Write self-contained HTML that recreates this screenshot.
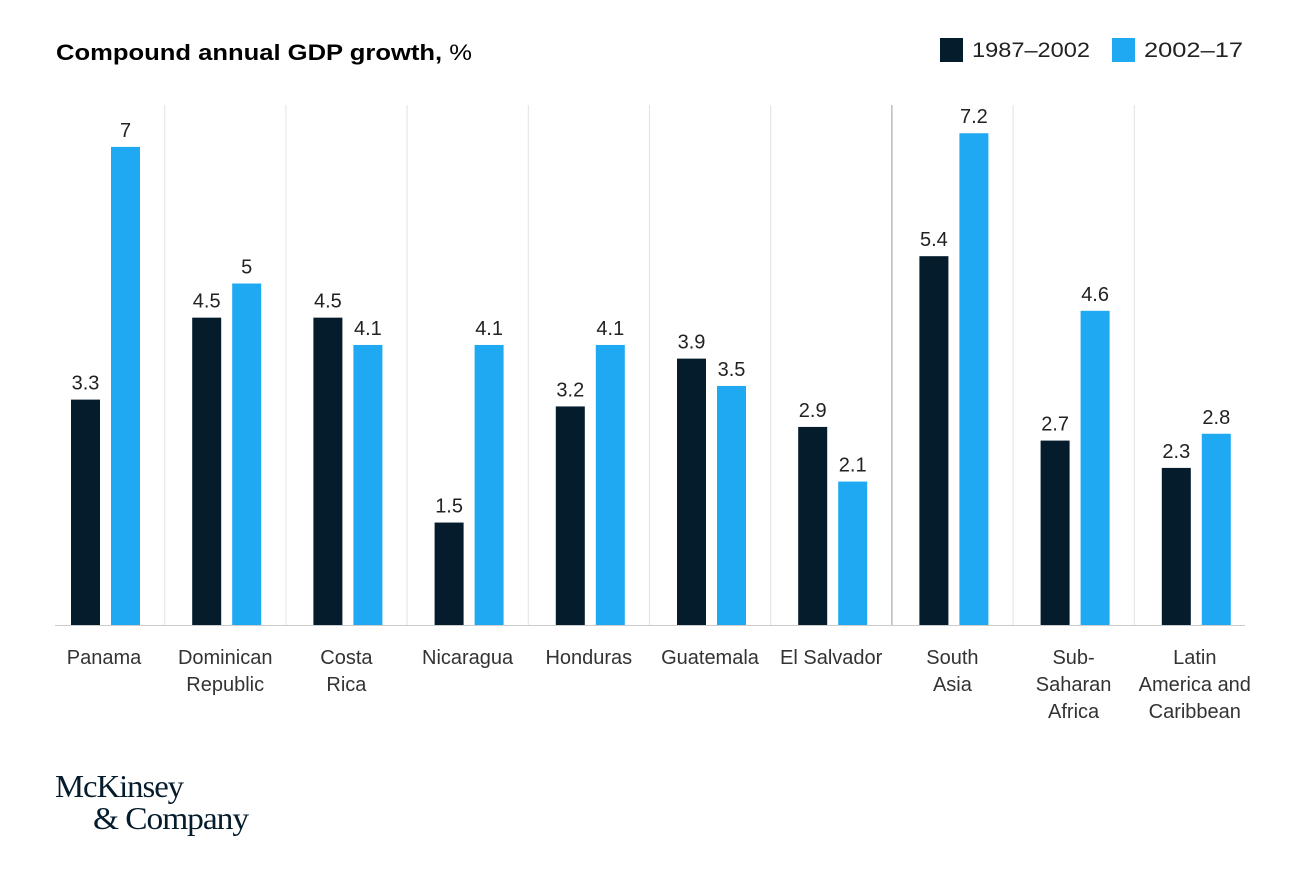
<!DOCTYPE html>
<html><head><meta charset="utf-8"><style>
body{margin:0;background:#fff;width:1298px;height:878px;overflow:hidden;font-family:"Liberation Sans",sans-serif}
</style></head><body>
<svg width="1298" height="878" xmlns="http://www.w3.org/2000/svg">
<text x="56" y="60" font-size="22" font-weight="bold" fill="#000" textLength="416" lengthAdjust="spacingAndGlyphs">Compound annual GDP growth, <tspan font-weight="normal">%</tspan></text>
<rect x="940" y="38" width="23" height="24" fill="#051c2c"/>
<text x="972" y="57" font-size="21" fill="#222" textLength="118" lengthAdjust="spacingAndGlyphs">1987–2002</text>
<rect x="1112" y="38" width="23" height="24" fill="#1fa9f2"/>
<text x="1144" y="57" font-size="21" fill="#222" textLength="99" lengthAdjust="spacingAndGlyphs">2002–17</text>
<g id="plot"></g>
<text x="55" y="797" font-size="32" font-family="Liberation Serif,serif" fill="#051c2c" letter-spacing="-1" textLength="128" lengthAdjust="spacingAndGlyphs">McKinsey</text>
<text x="93" y="829" font-size="32" font-family="Liberation Serif,serif" fill="#051c2c" letter-spacing="-1" textLength="155" lengthAdjust="spacingAndGlyphs">&amp; Company</text>
</svg>
<script>
const categories=[["Panama"],["Dominican","Republic"],["Costa","Rica"],["Nicaragua"],["Honduras"],["Guatemala"],["El Salvador"],["South","Asia"],["Sub-","Saharan","Africa"],["Latin","America and","Caribbean"]];
const series1987=[3.3,4.5,4.5,1.5,3.2,3.9,2.9,5.4,2.7,2.3];
const series2002=[7,5,4.1,4.1,4.1,3.5,2.1,7.2,4.6,2.8];
const labels1987=["3.3","4.5","4.5","1.5","3.2","3.9","2.9","5.4","2.7","2.3"];
const labels2002=["7","5","4.1","4.1","4.1","3.5","2.1","7.2","4.6","2.8"];
const NS="http://www.w3.org/2000/svg";
const g=document.getElementById('plot');
const base=625,k=68.3,step=121.2,x0=43;
const y=v=>base-v*k;
const gx=i=>x0+i*step;
function mk(t,a){const e=document.createElementNS(NS,t);for(const n in a)e.setAttribute(n,a[n]);g.appendChild(e);return e;}
for(let i=1;i<categories.length;i++){
 const l=mk('line',{x1:gx(i)+0.5,x2:gx(i)+0.5,y1:105,y2:base,stroke:i==7?'#999':'#e2e2e2','stroke-width':1});
 
 
}
const bl=mk('line',{x1:55,x2:1245,y1:base+0.5,y2:base+0.5,stroke:'#ccc'});


categories.forEach((c,i)=>{
 const c0=gx(i)+61;
 [[series1987,labels1987,'#051c2c',-33,'1987'],[series2002,labels2002,'#1fa9f2',7,'2002']].forEach(([s,lb,col,off,nm])=>{
  const r=mk('rect',{x:c0+off,y:y(s[i]),width:29,height:base-y(s[i]),fill:col});
  
  
  const t=mk('text',{x:c0+off+14.5,y:y(s[i])-10,'font-size':20,'text-anchor':'middle',fill:'#222'});
  t.textContent=lb[i];
  
  
 });
 c.forEach((ln,j)=>{
  const t=mk('text',{x:c0,y:664+j*27,'font-size':20,'text-anchor':'middle',fill:'#333'});
  t.textContent=ln;
  
  
 });
});
</script>
</body></html>
